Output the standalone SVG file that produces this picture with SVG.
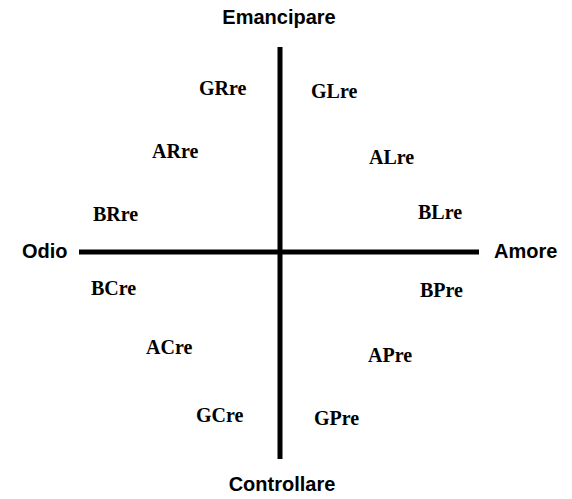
<svg xmlns="http://www.w3.org/2000/svg" width="572" height="499" viewBox="0 0 572 499">
<style>
.ax{font-family:"Liberation Sans",Arial,sans-serif;font-weight:bold;font-size:20px;fill:#000}
.lb{font-family:"Liberation Serif","Times New Roman",serif;font-weight:bold;font-size:20px;fill:#000}
.ln{stroke:#000;stroke-width:5;fill:none}
</style>
<rect width="572" height="499" fill="#fff"/>
<g id="connectors">
<line class="ln" x1="280" y1="47" x2="280" y2="459"/>
<line class="ln" x1="79" y1="252" x2="479" y2="252"/>
</g>
<g id="emancipare"><text class="ax" x="279" y="24" text-anchor="middle">Emancipare</text></g>
<g id="controllare"><text class="ax" x="282" y="491" text-anchor="middle">Controllare</text></g>
<g id="odio"><text class="ax" x="22" y="258">Odio</text></g>
<g id="amore"><text class="ax" x="494" y="258">Amore</text></g>
<g id="GRre"><text class="lb" x="199" y="95">GRre</text></g>
<g id="GLre"><text class="lb" x="311" y="98">GLre</text></g>
<g id="ARre"><text class="lb" x="152" y="158">ARre</text></g>
<g id="ALre"><text class="lb" x="369" y="164">ALre</text></g>
<g id="BRre"><text class="lb" x="93" y="221">BRre</text></g>
<g id="BLre"><text class="lb" x="418" y="219">BLre</text></g>
<g id="BCre"><text class="lb" x="91" y="295">BCre</text></g>
<g id="BPre"><text class="lb" x="420" y="297">BPre</text></g>
<g id="ACre"><text class="lb" x="146" y="354">ACre</text></g>
<g id="APre"><text class="lb" x="368" y="362">APre</text></g>
<g id="GCre"><text class="lb" x="196" y="422">GCre</text></g>
<g id="GPre"><text class="lb" x="314" y="425">GPre</text></g>
</svg>
